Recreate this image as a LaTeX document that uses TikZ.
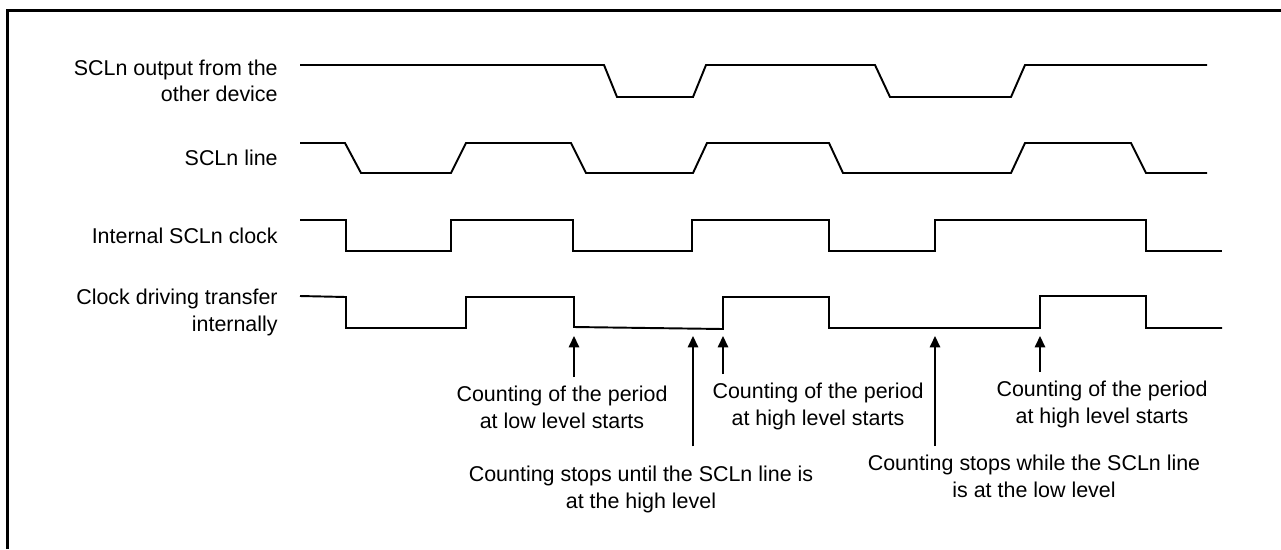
\documentclass[tikz,border=0pt]{standalone}
\usepackage{fontspec}
\setmainfont{Liberation Sans}
\usetikzlibrary{arrows.meta}

\begin{document}
\begin{tikzpicture}[x=0.02cm, y=-0.02cm,
    sig/.style={line width=1.1pt, line join=miter},
    lbl/.style={anchor=east, align=right, inner sep=0pt, font=\fontsize{12.2}{15}\selectfont},
    note/.style={anchor=north, align=center, inner sep=5pt, font=\fontsize{12.2}{15}\selectfont},
    pointer/.style={-{Triangle[length=6.5pt, width=6pt]}, line width=0.8pt}]
    % 画布与外框
    \useasboundingbox (0,0) rectangle (1281,549);
    \draw[line width=1.8pt] (7.5,549) -- (7.5,10.5) -- (1281,10.5);
    
    % 信号名称
    \node[lbl] (lout) at (278,81) {SCLn output from the\\other device};
    \node[lbl] (lline) at (278,158) {SCLn line};
    \node[lbl] (lint) at (278,236) {Internal SCLn clock};
    \node[lbl] (ldrv) at (278,312.5) {Clock driving transfer\\internally};
    
    % 另一器件输出的 SCLn
    \draw[sig] (300,65) -- (604,65) -- (617,97) -- (693,97) -- (706,65) -- (875,65)
        -- (890,97) -- (1011,97) -- (1025,65) -- (1207,65);
    
    % SCLn 线
    \draw[sig] (300,143) -- (345,143) -- (361,173) -- (451,173) -- (466,143) -- (571,143)
        -- (586,173) -- (693,173) -- (707,143) -- (829,143) -- (843,173) -- (1011,173)
        -- (1025,143) -- (1131,143) -- (1146,173) -- (1207,173);
    
    % 内部 SCLn 时钟
    \draw[sig] (300,220) -- (346,220) -- (346,251) -- (451,251) -- (451,220) -- (573,220)
        -- (573,251) -- (692,251) -- (692,220) -- (829,220) -- (829,251) -- (935,251)
        -- (935,220) -- (1146,220) -- (1146,251) -- (1222,251);
    
    % 内部传输时钟
    \draw[sig] (300,296) -- (346,297) -- (346,328) -- (466,328) -- (466,297) -- (574,297)
        -- (574,327) -- (723,329) -- (723,297) -- (829,297) -- (829,328) -- (1040,328)
        -- (1040,296) -- (1146,296) -- (1146,328) -- (1222,328);
    
    % 标注文字
    \node[note] (lowstart) at (562,377) {Counting of the period\\at low level starts};
    \node[note] (waithigh) at (641,457) {Counting stops until the SCLn line is\\at the high level};
    \node[note] (highstart) at (818,374) {Counting of the period\\at high level starts};
    \node[note] (waitlow) at (1034,446) {Counting stops while the SCLn line\\is at the low level};
    \node[note] (highstart2) at (1102,372) {Counting of the period\\at high level starts};
    
    % 标注箭头
    \coordinate (p1) at (574,336);
    \coordinate (p2) at (693,336);
    \coordinate (p3) at (723,336);
    \coordinate (p4) at (935,336);
    \coordinate (p5) at (1040,336);
    \draw[pointer] (p1 |- lowstart.north) -- (p1);
    \draw[pointer, shorten <=6pt] (p2 |- waithigh.north) -- (p2);
    \draw[pointer] (p3 |- highstart.north) -- (p3);
    \draw[pointer] (p4 |- waitlow.north) -- (p4);
    \draw[pointer] (p5 |- highstart2.north) -- (p5);
\end{tikzpicture}
\end{document}
